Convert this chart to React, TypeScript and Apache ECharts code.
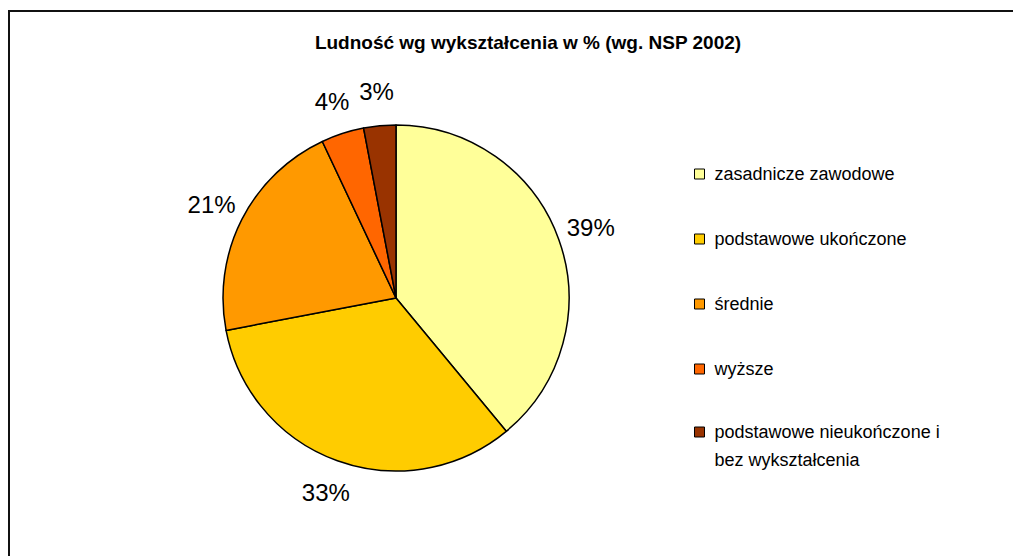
import React, { useEffect, useRef } from "react";
import * as echarts from "echarts";

const titleText = "Ludność wg wykształcenia w % (wg. NSP 2002)";
const categories = [
  "zasadnicze zawodowe",
  "podstawowe ukończone",
  "średnie",
  "wyższe",
  "podstawowe nieukończone i bez wykształcenia",
];
const values = [39, 33, 21, 4, 3];
const colors = ["#FFFF99", "#FFCC00", "#FF9900", "#FF6600", "#993300"];

const CENTER_X = 386;
const CENTER_Y = 286;
const RADIUS = 173;
const LABEL_OFFSET = 34;

export default function App() {
  const ref = useRef<HTMLDivElement>(null);

  useEffect(() => {
    if (!ref.current) return;
    const chart = echarts.init(ref.current, null, { renderer: "svg" });
    const total = values.reduce((a, b) => a + b, 0);
    const mids: number[] = [];
    let acc = 0;
    values.forEach((v) => {
      mids.push(((acc + v / 2) / total) * 2 * Math.PI);
      acc += v;
    });

    const font = "Arial, 'Liberation Sans', Helvetica, sans-serif";

    chart.setOption({
      animation: false,
      backgroundColor: "#ffffff",
      color: colors,
      title: {
        text: titleText,
        left: "center",
        top: 21,
        padding: 0,
        textStyle: {
          fontFamily: font,
          fontSize: 19,
          fontWeight: "bold",
          color: "#000",
          lineHeight: 19,
        },
      },
      legend: [
        {
          orient: "vertical",
          left: 684,
          top: 153,
          padding: 0,
          itemWidth: 10,
          itemHeight: 10,
          itemGap: 47,
          icon: "rect",
          itemStyle: { borderColor: "#000", borderWidth: 1 },
          data: categories.slice(0, 4),
          selectedMode: false,
          textStyle: {
            fontFamily: font,
            fontSize: 18,
            lineHeight: 18,
            color: "#000",
            padding: [0, 0, 0, 5],
          },
        },
        {
          orient: "vertical",
          left: 684,
          top: 383,
          padding: 0,
          itemWidth: 10,
          itemHeight: 10,
          icon: "rect",
          itemStyle: { borderColor: "#000", borderWidth: 1 },
          data: categories.slice(4),
          selectedMode: false,
          formatter: (name: string) => {
            const parts = name.split(" i ");
            return `{e| }\n{t|${parts[0]} i}\n{t|${parts.slice(1).join(" i ")}}`;
          },
          textStyle: {
            fontFamily: font,
            fontSize: 18,
            color: "#000",
            padding: [0, 0, 0, 5],
            rich: {
              e: { fontFamily: font, fontSize: 18, lineHeight: 28, color: "#000" },
              t: { fontFamily: font, fontSize: 18, lineHeight: 28, color: "#000" },
            },
          },
        },
      ],
      series: [
        {
          type: "pie",
          center: [CENTER_X, CENTER_Y],
          radius: RADIUS,
          startAngle: 90,
          clockwise: true,
          itemStyle: { borderColor: "#000", borderWidth: 1.5 },
          emphasis: { disabled: true },
          label: {
            show: true,
            position: "outside",
            formatter: (p: any) => `${p.value}%`,
            fontFamily: font,
            fontSize: 24,
            color: "#000",
          },
          labelLine: { show: false, length: 10, length2: 0 },
          labelLayout: (params: any) => {
            const a = mids[params.dataIndex];
            const d = RADIUS + LABEL_OFFSET;
            return {
              x: CENTER_X + Math.sin(a) * d,
              y: CENTER_Y - Math.cos(a) * d,
              align: "center",
              verticalAlign: "middle",
            };
          },
          data: categories.map((name, i) => ({ name, value: values[i] })),
        },
      ],
    });
    return () => chart.dispose();
  }, []);

  return (
    <>
      <style>{"html,body{overflow:hidden;}"}</style>
      <div
        style={{
          position: "relative",
          top: 2,
          width: 1040,
          height: 570,
          border: "2px solid #111",
          boxSizing: "border-box",
          background: "#fff",
        }}
      >
        <div ref={ref} style={{ width: 1036, height: 566 }} />
      </div>
    </>
  );
}
